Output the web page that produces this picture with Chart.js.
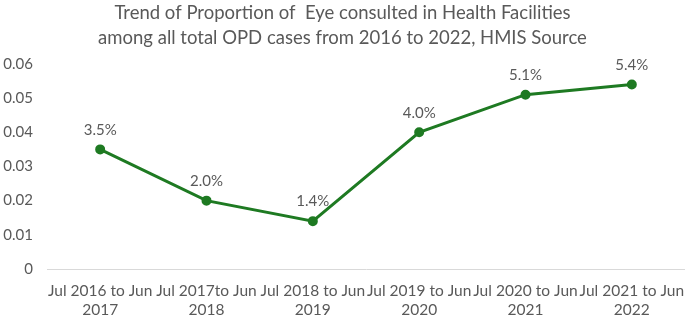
<!DOCTYPE html>
<html><head><meta charset="utf-8">
<script src="https://cdn.jsdelivr.net/npm/chart.js@4/dist/chart.umd.min.js"></script>
<style>html,body{margin:0;padding:0;background:#fff}#wrap{width:685px;height:320px}</style>
</head><body><div id="wrap"><canvas id="c"></canvas></div>
<script>
const categories = [
  ["Jul 2016 to Jun", "2017"],
  ["Jul 2017to Jun", "2018"],
  ["Jul 2018 to Jun", "2019"],
  ["Jul 2019 to Jun", "2020"],
  ["Jul 2020 to Jun", "2021"],
  ["Jul 2021 to Jun", "2022"]
];
const proportion = [0.035, 0.020, 0.014, 0.040, 0.051, 0.054];
const yTicks = [0, 0.01, 0.02, 0.03, 0.04, 0.05, 0.06];
const titleLines = ["Trend of Proportion of  Eye consulted in Health Facilities", "among all total OPD cases from 2016 to 2022, HMIS Source"];

const FONT = "Lato, 'Open Sans', sans-serif";
const GREY = "#595959";

const labelPlugin = {
  id: "pointLabels",
  afterDatasetsDraw(chart) {
    const ctx = chart.ctx;
    const meta = chart.getDatasetMeta(0);
    ctx.save();
    ctx.font = "15px " + FONT;
    ctx.fillStyle = GREY;
    ctx.textAlign = "center";
    ctx.textBaseline = "bottom";
    meta.data.forEach((pt, i) => {
      const v = proportion[i];
      ctx.fillText((v * 100).toFixed(1) + "%", pt.x, pt.y - 12);
    });
    ctx.restore();
  }
};

// let the category axis run to the right edge of the canvas (labels may overflow, as in the reference)
const stretchPlugin = {
  id: "stretchX",
  afterLayout(chart) {
    const x = chart.scales.x;
    if (!x) return;
    x.right = chart.width;
    x.width = x.right - x.left;
    chart.chartArea.right = chart.width;
    chart.chartArea.width = chart.chartArea.right - chart.chartArea.left;
    x.configure();
  }
};

new Chart(document.getElementById("c"), {
  type: "line",
  data: {
    labels: categories,
    datasets: [{
      data: proportion,
      borderColor: "#1e7a22",
      backgroundColor: "#1e7a22",
      borderWidth: 3,
      pointRadius: 3.5,
      pointHoverRadius: 3.5,
      tension: 0
    }]
  },
  options: {
    responsive: true,
    maintainAspectRatio: false,
    animation: false,
    layout: { padding: { top: 1, right: 0, bottom: 0, left: 0 } },
    plugins: {
      legend: { display: false },
      tooltip: { enabled: false },
      title: {
        display: true,
        text: titleLines,
        color: GREY,
        font: { family: FONT, size: 18.5, weight: "normal", lineHeight: 1.35 },
        padding: { top: 0, bottom: 13 }
      }
    },
    scales: {
      x: {
        offset: true,
        afterFit(scale) { scale.height = 51; scale.paddingRight = 0; scale.paddingLeft = 0; },
        grid: { display: false, drawTicks: false },
        border: { display: true, color: "#d9d9d9", width: 1 },
        ticks: { color: GREY, font: { family: FONT, size: 15.5, lineHeight: 1.22 }, padding: 13, maxRotation: 0, autoSkip: false }
      },
      y: {
        min: 0, max: 0.06,
        afterBuildTicks(scale) { scale.ticks = yTicks.map(v => ({ value: v })); },
        afterFit(scale) { scale.width = 47; },
        grid: { display: false, drawTicks: false },
        border: { display: false },
        ticks: {
          color: GREY, font: { family: FONT, size: 15 }, padding: 14,
          callback: (v) => v === 0 ? "0" : v.toFixed(2)
        }
      }
    }
  },
  plugins: [stretchPlugin, labelPlugin]
});
</script>
</body></html>
